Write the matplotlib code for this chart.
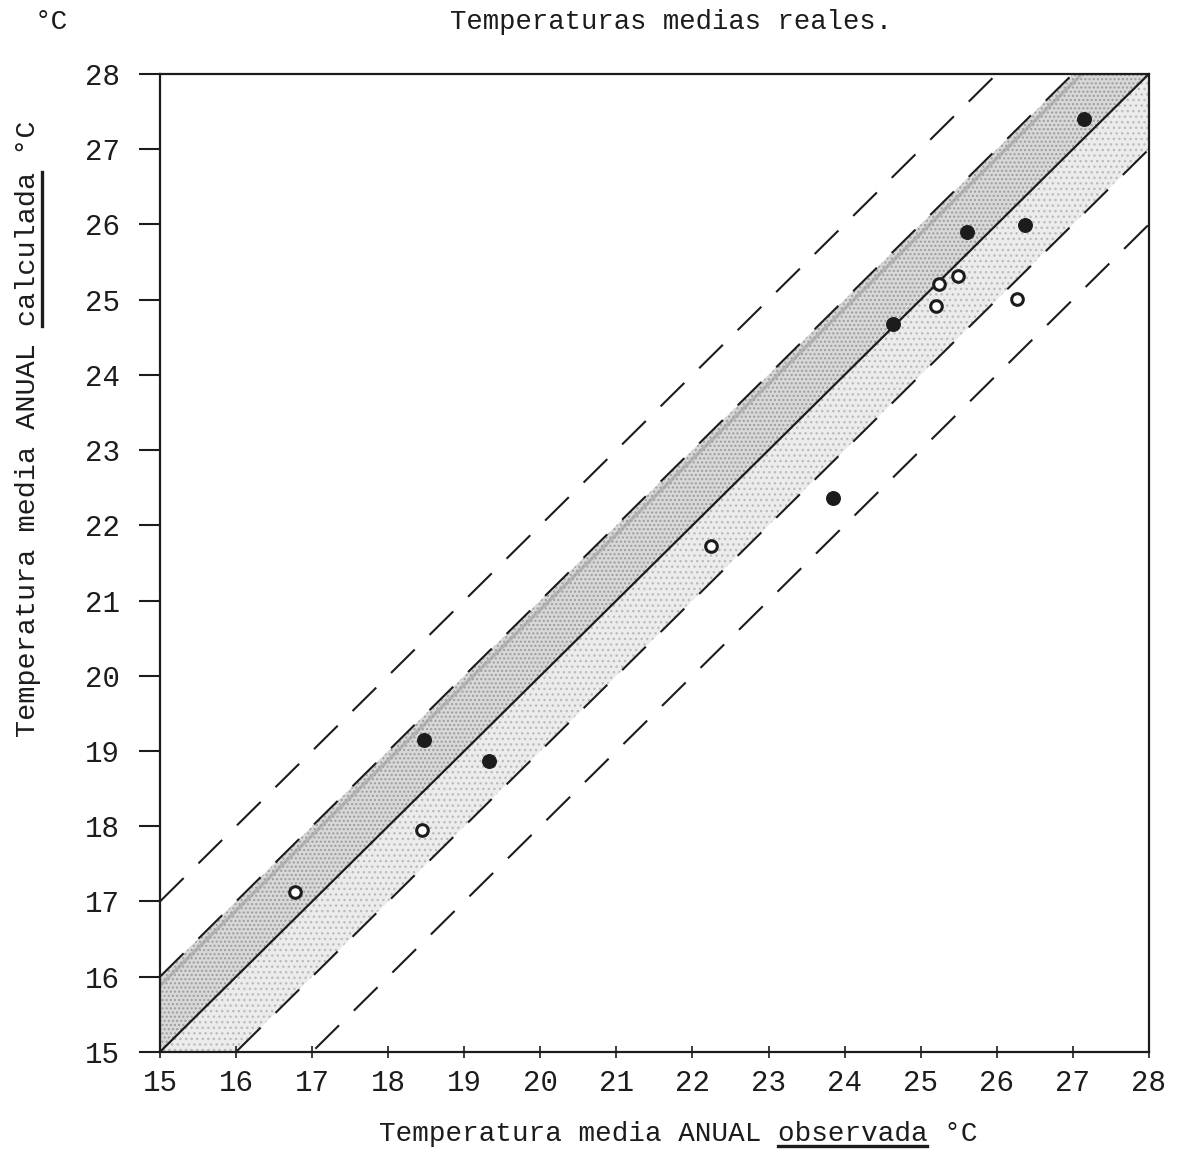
import matplotlib
matplotlib.use("Agg")
import matplotlib.pyplot as plt
from matplotlib.lines import Line2D
import numpy as np

# observed vs calculated mean annual temperature (deg C)
obs_filled = [18.47, 19.32, 23.85, 24.64, 25.61, 26.37, 27.15]
calc_filled = [19.15, 18.87, 22.36, 24.68, 25.90, 25.99, 27.40]
obs_open = [16.78, 18.44, 22.25, 25.20, 25.24, 25.49, 26.26]
calc_open = [17.13, 17.95, 21.73, 24.92, 25.21, 25.31, 25.01]

ticks = list(range(15, 29))
band_offsets = [-2, -1, 1, 2]   # dashed lines y = x + k

font = "Liberation Mono"
ink = "#1c1c1c"

fig = plt.figure(figsize=(11.83, 11.62), dpi=100)
ax = fig.add_axes([0.1352, 0.0947, 0.836, 0.8417])

xs = np.array([15, 28])

# shaded bands
ax.fill_between(xs, xs, xs + 1, facecolor="#d8d8d8", edgecolor="#9c9c9c",
                hatch="....", linewidth=0, zorder=1)
ax.fill_between(xs, xs - 1, xs, facecolor="#ececec", edgecolor="#bcbcbc",
                hatch="...", linewidth=0, zorder=1)
ax.plot(xs, xs + 0.88, color="#a0a0a0", lw=2.5, alpha=0.6, zorder=2)

# reference line and dashed limits
ax.plot(xs, xs, color=ink, lw=1.6, zorder=3)
for k in band_offsets:
    ax.plot(xs, xs + k, color=ink, lw=1.5, dashes=(16, 10), zorder=3)

# points
ax.scatter(obs_filled, calc_filled, s=95, marker="o", color=ink, zorder=4)
ax.scatter(obs_open, calc_open, s=70, marker="o", facecolor="white",
           edgecolor=ink, linewidths=2.2, zorder=4)

ax.set_xlim(15, 28)
ax.set_ylim(15, 28)
ax.set_xticks(ticks)
ax.set_yticks(ticks)
ax.tick_params(axis="y", direction="out", length=15, width=1.5, pad=14,
               labelsize=21, colors=ink)
ax.tick_params(axis="x", direction="inout", length=9, width=1.2, pad=8,
               labelsize=21, colors=ink)
for lab in ax.get_xticklabels() + ax.get_yticklabels():
    lab.set_fontfamily(font)
for sp in ax.spines.values():
    sp.set_linewidth(1.6)
    sp.set_color(ink)

# header texts
fig.text(0.567, 0.981, "Temperaturas medias reales.", ha="center", va="center",
         fontsize=19.6, family=font, color=ink)
fig.text(0.043, 0.981, "°C", ha="center", va="center",
         fontsize=20, family=font, color=ink)

xl = fig.text(0.573, 0.024, "Temperatura media ANUAL observada °C",
              ha="center", va="center", fontsize=19.9, family=font, color=ink)
yl = fig.text(0.024, 0.631, "Temperatura media ANUAL calculada °C",
              ha="center", va="center", rotation=90, fontsize=20.5,
              family=font, color=ink)

# underline the words "observada" and "calculada"
fig.canvas.draw()
r = fig.canvas.get_renderer()
W, H = fig.bbox.width, fig.bbox.height
n = 36
i0, i1 = 24, 33

bb = xl.get_window_extent(r)
cw = bb.width / n
x0 = bb.x0 + i0 * cw
x1 = bb.x0 + i1 * cw
yy = bb.y0 + 1
fig.add_artist(Line2D([x0 / W, x1 / W], [yy / H, yy / H], color=ink, lw=2.4,
                      transform=fig.transFigure))

bb = yl.get_window_extent(r)
ch = bb.height / n
y0 = bb.y0 + i0 * ch
y1 = bb.y0 + i1 * ch
xx = bb.x1 + 1
fig.add_artist(Line2D([xx / W, xx / W], [y0 / H, y1 / H], color=ink, lw=2.4,
                      transform=fig.transFigure))

fig.savefig("out.png", dpi=100)
